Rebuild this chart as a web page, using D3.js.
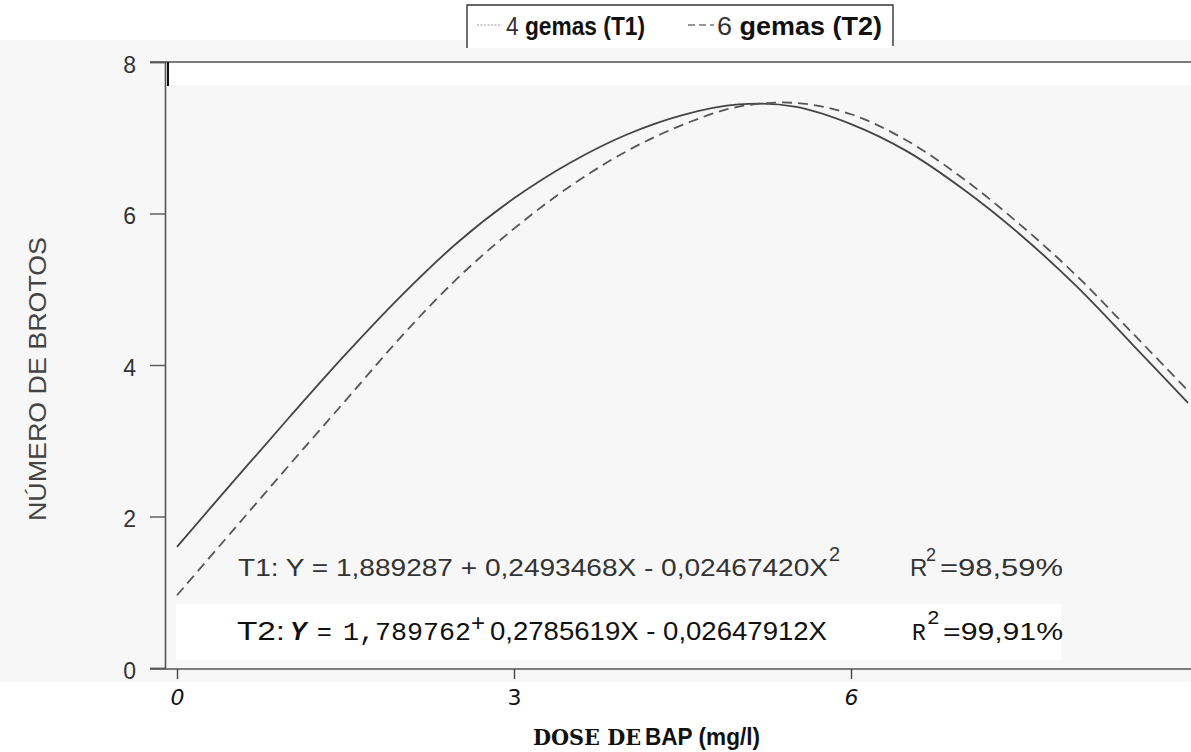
<!DOCTYPE html>
<html>
<head>
<meta charset="utf-8">
<script src="https://cdn.jsdelivr.net/npm/d3@7"></script>
<style>
  html, body { margin: 0; padding: 0; background: #fff; }
  svg { display: block; }
</style>
</head>
<body>
<svg id="chart" width="1191" height="752"></svg>
<script>
// Dose of BAP (mg/l) at which each fitted curve is sampled
const doses = [0, 0.5, 1, 1.5, 2, 2.5, 3, 3.5, 4, 4.5, 5, 5.5, 6, 6.5, 7, 7.5, 8, 8.5, 9];
// Number of shoots, 4 buds (T1) - solid curve
const t1Values = [1.60, 2.46, 3.31, 4.14, 4.92, 5.62, 6.20, 6.67, 7.04, 7.30, 7.44, 7.41, 7.18, 6.82, 6.32, 5.73, 5.05, 4.28, 3.50];
// Number of shoots, 6 buds (T2) - dashed curve
const t2Values = [0.96, 1.82, 2.68, 3.53, 4.38, 5.15, 5.80, 6.36, 6.82, 7.17, 7.41, 7.46, 7.31, 6.96, 6.46, 5.86, 5.19, 4.43, 3.66];
const xTicks = [0, 3, 6];
const yTicks = [0, 2, 4, 6, 8];
const seriesNames = ["4 gemas (T1)", "6 gemas (T2)"];

const svg = d3.select("#chart");
const W = 1191, H = 752;

const x = d3.scaleLinear().domain([0, 9]).range([177, 1188]);
const y = d3.scaleLinear().domain([0, 8]).range([668, 62]);

// paper tone of the plotting area, with the lighter pasted bands
svg.append("rect").attr("x", 0).attr("y", 0).attr("width", W).attr("height", H).attr("fill", "#ffffff");
svg.append("rect").attr("x", 0).attr("y", 40).attr("width", W).attr("height", 642).attr("fill", "#f7f7f7");
svg.append("rect").attr("x", 168).attr("y", 63).attr("width", W - 168).attr("height", 22).attr("fill", "#ffffff");
svg.append("rect").attr("x", 176).attr("y", 604).attr("width", 885).attr("height", 56).attr("fill", "#ffffff");

// frame line along the top of the plot
svg.append("line")
  .attr("x1", 150).attr("x2", W).attr("y1", y(8)).attr("y2", y(8))
  .attr("stroke", "#555").attr("stroke-width", 1.6);
svg.append("line")
  .attr("x1", 168).attr("x2", 168).attr("y1", y(8)).attr("y2", y(8) + 24)
  .attr("stroke", "#111").attr("stroke-width", 2);

// y axis
const yAxis = d3.axisLeft(y).tickValues(yTicks).tickSize(15).tickPadding(14).tickFormat(d3.format("d"));
const gy = svg.append("g").attr("transform", "translate(165,0)").call(yAxis);
gy.select(".domain").attr("stroke", "#555").attr("stroke-width", 1.6);
gy.selectAll(".tick line").attr("stroke", "#555").attr("stroke-width", 1.4);
gy.selectAll(".tick text")
  .attr("font-family", "Liberation Sans, Arial, sans-serif")
  .attr("font-size", 23).attr("fill", "#333").attr("dy", "0.45em");

// x axis
const xAxis = d3.axisBottom(x).tickValues(xTicks).tickSize(10).tickPadding(10).tickFormat(d3.format("d"));
const gx = svg.append("g").attr("transform", "translate(0,669)").call(xAxis);
gx.select(".domain").attr("d", `M150,0H${W}`).attr("stroke", "#555").attr("stroke-width", 1.6);
gx.selectAll(".tick line").attr("stroke", "#444").attr("stroke-width", 1.4);
gx.selectAll(".tick text")
  .attr("font-family", "DejaVu Sans, sans-serif")
  .attr("font-size", 22).attr("fill", "#111")
  .attr("font-style", d => d === 3 ? "normal" : "italic");

// axis titles
svg.append("text")
  .attr("transform", "translate(46,379) rotate(-90)")
  .attr("text-anchor", "middle")
  .attr("font-family", "Liberation Sans, Arial, sans-serif")
  .attr("font-size", 23).attr("fill", "#444")
  .attr("textLength", 284).attr("lengthAdjust", "spacingAndGlyphs")
  .text("NÚMERO DE BROTOS");

const xt = svg.append("text")
  .attr("x", 533).attr("y", 745)
  .attr("font-size", 23).attr("fill", "#111");
xt.append("tspan").attr("font-family", "DejaVu Serif, serif").attr("font-weight", "bold")
  .attr("textLength", 108).attr("lengthAdjust", "spacingAndGlyphs").text("DOSE DE");
xt.append("tspan").attr("x", 645).attr("font-family", "Liberation Sans, Arial, sans-serif").attr("font-weight", "bold")
  .attr("textLength", 115).attr("lengthAdjust", "spacingAndGlyphs").text("BAP (mg/l)");

// fitted curves
const line = d3.line().x((d, i) => x(doses[i])).y(d => y(d)).curve(d3.curveCatmullRom.alpha(0.5));
svg.append("path").datum(t1Values).attr("d", line)
  .attr("fill", "none").attr("stroke", "#444").attr("stroke-width", 1.8);
svg.append("path").datum(t2Values).attr("d", line)
  .attr("fill", "none").attr("stroke", "#555").attr("stroke-width", 1.8)
  .attr("stroke-dasharray", "10,6");

// regression equations
const eqFont = "Liberation Sans, Arial, sans-serif";
const monoFont = "Liberation Mono, DejaVu Sans Mono, monospace";
svg.append("text").attr("x", 238).attr("y", 576)
  .attr("font-family", eqFont).attr("font-size", 24).attr("fill", "#333")
  .attr("textLength", 590).attr("lengthAdjust", "spacingAndGlyphs")
  .text("T1: Y = 1,889287 + 0,2493468X - 0,02467420X");
svg.append("text").attr("x", 829).attr("y", 561)
  .attr("font-family", eqFont).attr("font-size", 20).attr("fill", "#333").text("2");
svg.append("text").attr("x", 910).attr("y", 576)
  .attr("font-family", eqFont).attr("font-size", 24).attr("fill", "#333").text("R");
svg.append("text").attr("x", 926).attr("y", 561)
  .attr("font-family", eqFont).attr("font-size", 18).attr("fill", "#333").text("2");
svg.append("text").attr("x", 940).attr("y", 576)
  .attr("font-family", eqFont).attr("font-size", 24).attr("fill", "#333")
  .attr("textLength", 123).attr("lengthAdjust", "spacingAndGlyphs").text("=98,59%");

// second equation, typeset in mixed faces
const t2y = 640;
svg.append("text").attr("x", 237).attr("y", t2y)
  .attr("font-family", eqFont).attr("font-size", 25).attr("fill", "#111")
  .attr("textLength", 48).attr("lengthAdjust", "spacingAndGlyphs").text("T2:");
svg.append("text").attr("x", 290).attr("y", t2y)
  .attr("font-family", eqFont).attr("font-size", 25).attr("font-style", "italic").attr("font-weight", "bold")
  .attr("fill", "#111").text("Y");
svg.append("text").attr("x", 317).attr("y", t2y)
  .attr("font-family", eqFont).attr("font-size", 25).attr("fill", "#111").text("=");
svg.append("text").attr("x", 343).attr("y", t2y)
  .attr("font-family", monoFont).attr("font-size", 25)
  .attr("fill", "#111").attr("textLength", 128).attr("lengthAdjust", "spacingAndGlyphs").text("1,789762");
svg.append("text").attr("x", 471).attr("y", t2y - 9)
  .attr("font-family", eqFont).attr("font-size", 24).attr("fill", "#111").text("+");
svg.append("text").attr("x", 490).attr("y", t2y)
  .attr("font-family", "Liberation Sans Narrow, " + eqFont).attr("font-size", 25).attr("fill", "#111")
  .attr("textLength", 337).attr("lengthAdjust", "spacingAndGlyphs").text("0,2785619X - 0,02647912X");
svg.append("text").attr("x", 912).attr("y", t2y)
  .attr("font-family", monoFont).attr("font-size", 23)
  .attr("fill", "#111").text("R");
svg.append("text").attr("x", 927).attr("y", t2y - 16)
  .attr("font-family", monoFont).attr("font-size", 21).attr("fill", "#111").text("2");
svg.append("text").attr("x", 943).attr("y", t2y)
  .attr("font-family", eqFont).attr("font-size", 24).attr("fill", "#111")
  .attr("textLength", 120).attr("lengthAdjust", "spacingAndGlyphs").text("=99,91%");

// legend
const lg = svg.append("g");
lg.append("rect").attr("x", 467).attr("y", 5).attr("width", 426).attr("height", 43).attr("fill", "#fff");
lg.append("path").attr("d", "M467,48V5H893V46")
  .attr("fill", "none").attr("stroke", "#333").attr("stroke-width", 1.4);
lg.append("line").attr("x1", 477).attr("x2", 502).attr("y1", 25).attr("y2", 25)
  .attr("stroke", "#999").attr("stroke-width", 1.2).attr("stroke-dasharray", "2,1.5");
lg.append("line").attr("x1", 688).attr("x2", 714).attr("y1", 25).attr("y2", 25)
  .attr("stroke", "#777").attr("stroke-width", 1.4).attr("stroke-dasharray", "7,4");
const legendX = [506, 717];
const legendW = [139, 165];
seriesNames.forEach((name, i) => {
  const parts = name.split(" ");
  const t = lg.append("text").attr("x", legendX[i]).attr("y", 35)
    .attr("font-family", eqFont).attr("font-size", 25).attr("fill", "#111")
    .attr("textLength", legendW[i]).attr("lengthAdjust", "spacingAndGlyphs");
  t.append("tspan").attr("fill", "#333").text(parts[0] + " ");
  t.append("tspan").attr("font-weight", "bold").text(parts.slice(1).join(" "));
});
</script>
</body>
</html>
